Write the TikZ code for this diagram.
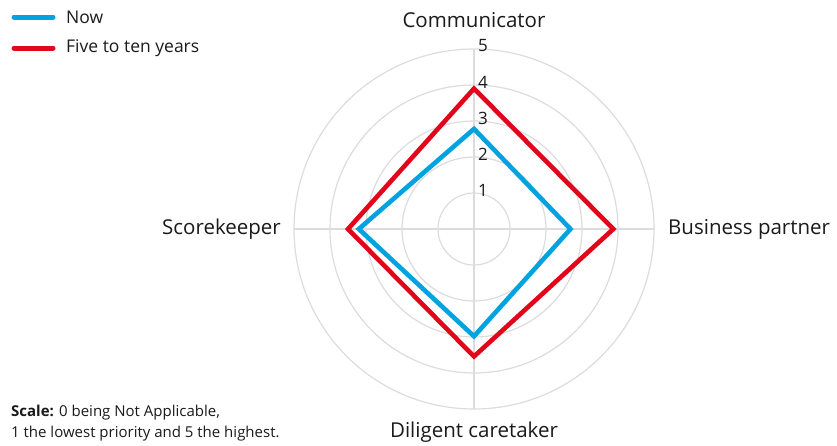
\documentclass[tikz,border=0pt]{standalone}
\usepackage{fontspec}
\setmainfont{Open Sans}
\definecolor{nowblue}{HTML}{00A3DF}
\definecolor{futred}{HTML}{E2061A}
\definecolor{gridgray}{HTML}{DCDCDC}
\definecolor{txt}{HTML}{1A1A1A}
\begin{document}
\begin{tikzpicture}[x=1pt,y=-1pt,
  grid/.style={draw=gridgray,line width=1.2pt},
  series/.style={line width=4.6pt,line join=miter},
  axislabel/.style={text=txt,font=\fontsize{20.5}{24}\selectfont,inner sep=0pt},
  ticklabel/.style={text=txt,font=\fontsize{17}{20}\selectfont,inner sep=0pt,anchor=west},
  legline/.style={line width=5pt,line cap=round},
  legtext/.style={text=txt,font=\fontsize{17.5}{19}\selectfont,inner sep=0pt,anchor=west}]
\useasboundingbox (0,0) rectangle (837,445);
\coordinate (c) at (474,229);
% grid circles
\foreach \r in {1,...,5} \draw[grid] (c) circle[radius=36*\r];
\coordinate (axT) at (474,49);
\coordinate (axB) at (474,409);
\coordinate (axL) at (294,229);
\coordinate (axR) at (654,229);
\draw[grid] (axT) -- (axB);
\draw[grid] (axL) -- (axR);
% tick labels
\foreach \r in {1,...,5} \node[ticklabel] (t\r) at (478,226-36*\r) {\r};
% series: now
\coordinate (nT) at (474,229-36*2.78);
\coordinate (nR) at (474+36*2.68,229);
\coordinate (nB) at (474,229+36*2.98);
\coordinate (nL) at (474-36*3.2,229);
\draw[series,nowblue] (nT) -- (nR) -- (nB) -- (nL) -- cycle;
% series: five to ten years
\coordinate (fT) at (474,229-36*3.9);
\coordinate (fR) at (474+36*3.87,229);
\coordinate (fB) at (474,229+36*3.54);
\coordinate (fL) at (474-36*3.5,229);
\draw[series,futred] (fT) -- (fR) -- (fB) -- (fL) -- cycle;
% axis labels
\node[axislabel,anchor=center] (comm) at (474,20) {Communicator};
\node[axislabel,anchor=west] (bp) at (668,229) {Business partner};
\node[axislabel,anchor=east] (sk) at (281,229) {Scorekeeper};
\node[axislabel,anchor=center] (dc) at (474,432) {Diligent caretaker};
% legend
\coordinate (l1a) at (14,17); \coordinate (l1b) at (53,17);
\coordinate (l2a) at (14,48); \coordinate (l2b) at (53,48);
\draw[legline,nowblue] (l1a) -- (l1b);
\draw[legline,futred] (l2a) -- (l2b);
\node[legtext] (lnow) at (66,17.5) {Now};
\node[legtext] (lfut) at (66,48.5) {Five to ten years};
% scale note
\node[text=txt,font=\fontsize{15}{20.5}\selectfont,inner sep=0pt,anchor=north west,align=left] (scale) at (11,405)
  {\textbf{Scale:} 0 being Not Applicable,\\1 the lowest priority and 5 the highest.};
\end{tikzpicture}
\end{document}
